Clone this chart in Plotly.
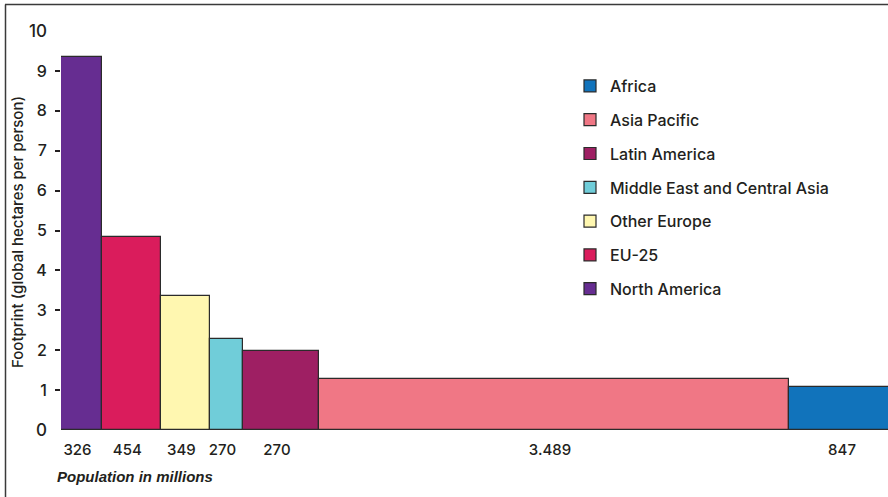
import plotly.graph_objects as go
import numpy as np

# ---- data ----
regions = ["North America", "EU-25", "Other Europe", "Middle East and Central Asia",
           "Latin America", "Asia Pacific", "Africa"]
footprint = [9.35, 4.83, 3.37, 2.28, 1.97, 1.28, 1.09]          # global ha per person
pop_labels = ["326", "454", "349", "270", "270", "3.489", "847"]  # printed labels
bar_widths = [304, 436, 366, 245, 564, 3489, 847]                # population (millions) as drawn
colors = ["#662d91", "#da1c5c", "#fff7b0", "#70cdd9", "#9e1f63", "#f07785", "#1173bb"]
y_ticks = [1, 2, 3, 4, 5, 6, 7, 8, 9]
y_end_ticks = [0, 10]

lefts = np.concatenate([[0], np.cumsum(bar_widths)[:-1]])
centers = lefts + np.array(bar_widths) / 2

FONT = "Inter, Liberation Sans, Arial, sans-serif"
FONT2 = "Liberation Sans, Arial, sans-serif"
DARK = "#231f20"

fig = go.Figure()
for i, r in enumerate(regions):
    fig.add_trace(go.Bar(
        x=[centers[i]], y=[footprint[i]], width=[bar_widths[i]],
        name=r, legendgroup=r, legendrank=1000 - i,
        marker=dict(color=colors[i], line=dict(color="#2b2b2b", width=1.2)),
        hoverinfo="name+y",
    ))

L, R, T, B = 61, 0, 31, 67
W, H = 888, 497
pw, ph = W - L - R, H - T - B
xscale = 6139 / pw  # data units per pixel

def px_x(p):
    return (p - L) / pw

def px_y(p):
    return (H - B - p) / ph

fig.update_layout(
    width=W, height=H,
    margin=dict(l=L, r=R, t=T, b=B, pad=0),
    paper_bgcolor="white", plot_bgcolor="white",
    font=dict(family=FONT, color=DARK),
    bargap=0,
    showlegend=True,
    legend=dict(
        x=px_x(570), y=px_y(69), xanchor="left", yanchor="top",
        traceorder="grouped", tracegroupgap=10,
        font=dict(size=16, family=FONT, color=DARK, weight=500),
        bgcolor="rgba(0,0,0,0)", borderwidth=0,
    ),
    xaxis=dict(
        range=[0, 6139], showgrid=False, zeroline=False, showline=False,
        tickmode="array", tickvals=list(centers - 4 * xscale), ticktext=pop_labels,
        ticks="", tickfont=dict(size=15, family=FONT, color=DARK, weight=500),
        ticklabelstandoff=9, fixedrange=True,
    ),
    yaxis=dict(
        range=[0, 10], showgrid=False, zeroline=False, showline=False,
        tickmode="array", tickvals=y_ticks, ticktext=[str(v) for v in y_ticks],
        ticks="outside", ticklen=5, tickwidth=1.5, tickcolor=DARK,
        tickfont=dict(size=16, family=FONT, color=DARK, weight=500),
        ticklabelstandoff=5,
    ),
    yaxis2=dict(
        range=[0, 10], overlaying="y", side="left", showgrid=False,
        zeroline=False, showline=False,
        tickmode="array", tickvals=y_end_ticks, ticktext=[str(v) for v in y_end_ticks],
        ticks="", tickfont=dict(size=17, family=FONT, color=DARK, weight=500),
        ticklabelstandoff=13,
    ),
)

# invisible trace to activate yaxis2
fig.add_trace(go.Scatter(x=[0], y=[0], yaxis="y2", mode="markers",
                         marker=dict(opacity=0), showlegend=False, hoverinfo="skip"))

fig.add_annotation(
    text="Footprint (global hectares per person)", textangle=-90,
    xref="paper", yref="paper", x=px_x(17), y=px_y(232),
    xanchor="center", yanchor="middle", showarrow=False,
    font=dict(size=15, family=FONT, color=DARK, weight=500),
)
fig.add_annotation(
    text="<b><i>Population in millions</i></b>",
    xref="paper", yref="paper", x=px_x(55), y=px_y(476),
    xanchor="left", yanchor="middle", showarrow=False,
    font=dict(size=15, family=FONT2, color=DARK),
)

# frame lines (left and top)
fig.add_shape(type="line", xref="paper", yref="paper",
              x0=px_x(5.5), x1=px_x(5.5), y0=px_y(4.5), y1=px_y(498),
              line=dict(color="#3a3a3a", width=1.5))
fig.add_shape(type="line", xref="paper", yref="paper",
              x0=px_x(5), x1=px_x(889), y0=px_y(4.5), y1=px_y(4.5),
              line=dict(color="#3a3a3a", width=1.5))

fig.write_html("out.html")
